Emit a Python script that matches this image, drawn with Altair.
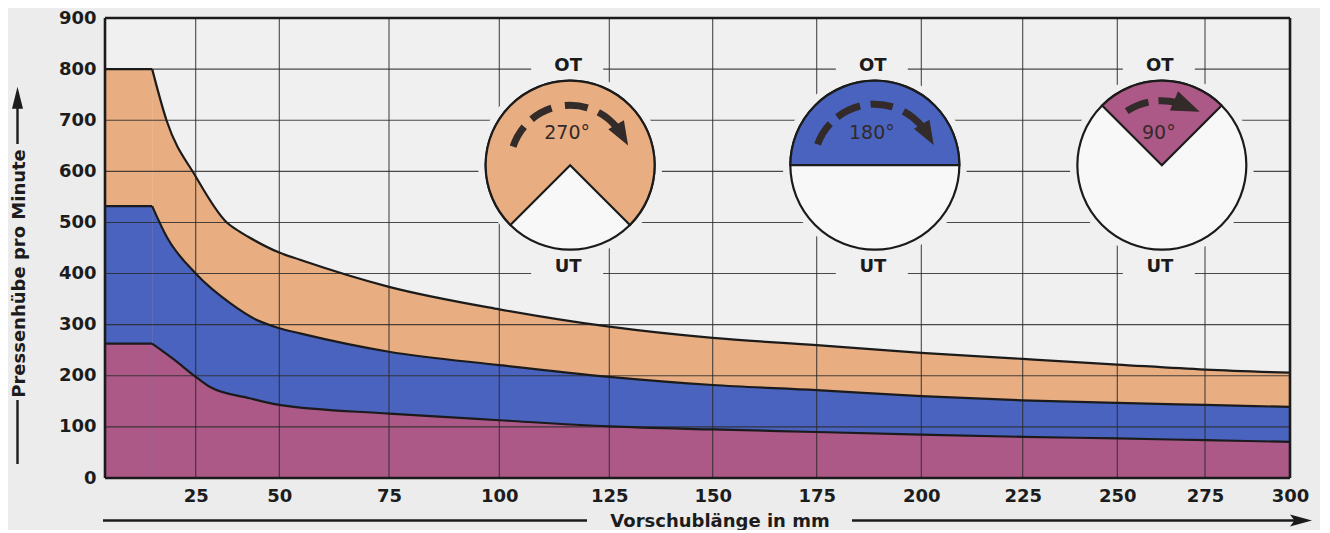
import altair as alt
import numpy as np
import pandas as pd

# ---------------- data ----------------
ORANGE_X = [0, 13, 17, 25, 34.3, 37.9, 41.2, 50, 54.7, 75, 100, 125, 150, 175, 200, 225, 250, 275, 300]
ORANGE_Y = [800, 800, 699, 590, 500, 483, 470, 441, 427, 374, 330, 296, 274, 260, 245, 233, 222, 212, 206]
BLUE_X = [0, 13, 17, 25, 35.3, 43.3, 50, 54.7, 75, 100, 125, 150, 175, 200, 225, 250, 275, 300]
BLUE_Y = [532, 532, 472, 400, 342, 309, 293, 283, 247, 221, 198, 182, 172, 160, 152, 147, 143, 139]
PINK_X = [0, 13, 18.8, 25, 29.3, 41.2, 50, 75, 100, 125, 150, 175, 200, 225, 250, 275, 300]
PINK_Y = [263, 263, 233, 198, 178, 156, 143, 126, 113, 101, 95, 90, 85, 80.5, 77.4, 74, 70.7]

X_TICKS = [0, 25, 50, 75, 100, 125, 150, 175, 200, 225, 250, 275, 300]
Y_TICKS = [0, 100, 200, 300, 400, 500, 600, 700, 800, 900]

DIAG_LABELS = ["270°", "180°", "90°"]
DIAG_X = [116.1, 188.9, 262.7]        # diagram centres (data units)
DIAG_Y = [612, 612, 612]
DIAG_START = [-135, -90, -45]          # coloured sector, degrees from top, clockwise
DIAG_END = [135, 90, 45]

X_TITLE = "Vorschublänge in mm"
Y_TITLE = "Pressenhübe pro Minute"

# ---------------- styling / layout ----------------
ORANGE = "#E8AD81"
BLUE = "#4963BF"
PINK = "#AD5987"
BG = "#ECECEC"
PLOT_BG = "#F0F0F0"
WHITE = "#F8F8F8"
INK = "#1b1b1b"
DARK = "#332a2a"
FONT = "DejaVu Sans"

W, H = 1185, 460
# the printed x axis is not evenly spaced: piecewise range (pixels)
X_RANGE = [0, 90.7, 174.3, 284, 394.3, 504.3, 607.7, 711.7, 816.3, 917.7, 1012.3, 1100, 1185]

xs = alt.Scale(domain=X_TICKS, range=X_RANGE, nice=False, zero=False)
ys = alt.Scale(domain=[0, 900], nice=False, zero=False)

xax = alt.Axis(values=X_TICKS[1:], title=X_TITLE, labelFlush=False, labelOverlap=False,
               ticks=False, grid=False, domain=False, labelPadding=9,
               titleX=614.5, titleY=43, titleBaseline="middle", titleAlign="center")
yax = alt.Axis(values=Y_TICKS, title=Y_TITLE, labelFlush=False, labelOverlap=False,
               ticks=False, grid=False, domain=False, labelPadding=9,
               titleX=-85.5, titleY=255, titleAngle=270, titleBaseline="middle",
               titleAlign="center")


def X(f):
    return alt.X(f, scale=xs, axis=xax)


def Y(f):
    return alt.Y(f, scale=ys, axis=yax)


def xpix(v):
    return np.interp(v, X_TICKS, X_RANGE)


def xdata(p):
    return float(np.interp(p, X_RANGE, X_TICKS))


def ypix(v):
    return H * (1 - v / 900.0)


def ydata(p):
    return 900.0 * (1 - p / H)


layers = []

series = [(ORANGE_X, ORANGE_Y, ORANGE), (BLUE_X, BLUE_Y, BLUE), (PINK_X, PINK_Y, PINK)]


def parts(xv, yv):
    # flat plateau (first two points, straight) and the falling curve (from the corner on)
    flat = pd.DataFrame({"x": xv[:2], "y": yv[:2]})
    curve = pd.DataFrame({"x": xv[1:], "y": yv[1:]})
    return flat, curve


for xv, yv, col in series:
    flat, curve = parts(xv, yv)
    layers.append(alt.Chart(flat).mark_area(interpolate="linear", color=col, opacity=1)
                  .encode(x=X("x:Q"), y=Y("y:Q")))
    layers.append(alt.Chart(curve).mark_area(interpolate="monotone", color=col, opacity=1)
                  .encode(x=X("x:Q"), y=Y("y:Q")))

# grid lines (drawn over the areas)
vgrid = pd.DataFrame({"x": X_TICKS[1:-1]})
hgrid = pd.DataFrame({"y": Y_TICKS[1:-1]})
layers.append(alt.Chart(vgrid).mark_rule(color="#2a2a2a", strokeWidth=1.1, opacity=0.85)
              .encode(x=X("x:Q")))
layers.append(alt.Chart(hgrid).mark_rule(color="#2a2a2a", strokeWidth=1.1, opacity=0.85)
              .encode(y=Y("y:Q")))

for xv, yv, col in series:
    flat, curve = parts(xv, yv)
    layers.append(alt.Chart(flat).mark_line(interpolate="linear", color=INK, strokeWidth=2.2)
                  .encode(x=X("x:Q"), y=Y("y:Q")))
    layers.append(alt.Chart(curve).mark_line(interpolate="monotone", color=INK, strokeWidth=2.2)
                  .encode(x=X("x:Q"), y=Y("y:Q")))

# ---------------- crank-angle diagrams ----------------
diag = pd.DataFrame({
    "cx": DIAG_X, "cy": DIAG_Y, "label": DIAG_LABELS,
    "t0": np.radians(DIAG_START), "t1": np.radians(DIAG_END),
    "col": [ORANGE, BLUE, PINK],
})
R = 84.5
TWO_PI = 6.2832

# halo hiding the grid
layers.append(alt.Chart(diag).mark_arc(theta=0, theta2=TWO_PI, radius=92, fill=PLOT_BG, strokeWidth=0)
              .encode(x=X("cx:Q"), y=Y("cy:Q")))
box = "M-1,-0.3L1,-0.3L1,0.3L-1,0.3Z"
for off in (-99, 101.5):
    layers.append(alt.Chart(diag).mark_point(shape=box, size=72 ** 2, filled=True, fill=PLOT_BG,
                                             opacity=1, strokeWidth=0, yOffset=off, xOffset=-3)
                  .encode(x=X("cx:Q"), y=Y("cy:Q")))

layers.append(alt.Chart(diag).mark_arc(theta=0, theta2=TWO_PI, radius=R, fill=WHITE,
                                       stroke=INK, strokeWidth=2.2)
              .encode(x=X("cx:Q"), y=Y("cy:Q")))
layers.append(alt.Chart(diag).mark_arc(radius=R, stroke=INK, strokeWidth=2.2, opacity=1)
              .encode(x=X("cx:Q"), y=Y("cy:Q"),
                      theta=alt.Theta("t0:Q", scale=None, stack=False),
                      theta2=alt.Theta2("t1:Q"),
                      fill=alt.Fill("col:N", scale=None)))

# dashed arrows (angles in degrees from top, clockwise)
DASH_DIAG = [0, 0, 0, 0, 1, 1, 1, 1, 2, 2]
DASH_START = [-72, -40, -5, 28, -70, -38, -4, 28, -33, -3]
DASH_END = [-50, -18, 17, 51, -47, -14, 17, 51, -12, 13]
RING = {0: (56.5, 63.5), 1: (57.5, 64.5), 2: (61, 68)}
dash = pd.DataFrame({
    "cx": [DIAG_X[d] for d in DASH_DIAG],
    "cy": [DIAG_Y[d] for d in DASH_DIAG],
    "t0": np.radians(DASH_START), "t1": np.radians(DASH_END),
    "ri": [RING[d][0] for d in DASH_DIAG], "ro": [RING[d][1] for d in DASH_DIAG],
})
layers.append(alt.Chart(dash).mark_arc(color=DARK, opacity=1)
              .encode(x=X("cx:Q"), y=Y("cy:Q"),
                      theta=alt.Theta("t0:Q", scale=None, stack=False),
                      theta2=alt.Theta2("t1:Q"),
                      radius=alt.Radius("ro:Q", scale=None),
                      radius2=alt.Radius2("ri:Q")))

HEAD_ANG = [60, 60, 23]
HEAD_R = [60, 61, 64]
HEAD_SIZE = [576, 576, 784]
hx, hy = [], []
for i in range(3):
    cxp, cyp = xpix(DIAG_X[i]), ypix(DIAG_Y[i])
    a = np.radians(HEAD_ANG[i])
    hx.append(xdata(cxp + HEAD_R[i] * np.sin(a)))
    hy.append(ydata(cyp - HEAD_R[i] * np.cos(a)))
heads = pd.DataFrame({"x": hx, "y": hy, "ang": [a + 90 for a in HEAD_ANG], "sz": HEAD_SIZE})
tri = "M0,-1L0.75,1L-0.75,1Z"
layers.append(alt.Chart(heads).mark_point(shape=tri, filled=True, color=DARK, opacity=1, strokeWidth=0)
              .encode(x=X("x:Q"), y=Y("y:Q"),
                      angle=alt.Angle("ang:Q", scale=None),
                      size=alt.Size("sz:Q", scale=None)))

layers.append(alt.Chart(diag).mark_text(font=FONT, fontSize=19, color=DARK, dy=-32.5, dx=-3)
              .encode(x=X("cx:Q"), y=Y("cy:Q"), text="label:N"))
for txt, off in (("OT", -99), ("UT", 101.5)):
    d = diag.assign(t=txt)
    layers.append(alt.Chart(d).mark_text(font=FONT, fontSize=18, fontWeight="bold", color=INK,
                                         dy=off, dx=-2)
                  .encode(x=X("cx:Q"), y=Y("cy:Q"), text="t:N"))

# frame
layers.append(alt.Chart(pd.DataFrame({"x": [0, 300]})).mark_rule(color=INK, strokeWidth=2.6)
              .encode(x=X("x:Q")))
layers.append(alt.Chart(pd.DataFrame({"y": [0, 900]})).mark_rule(color=INK, strokeWidth=2.6)
              .encode(y=Y("y:Q")))

# title arrows
one = pd.DataFrame({"a": [0]})
layers.append(alt.Chart(one).mark_rule(color=INK, strokeWidth=2.4)
              .encode(x=alt.value(-2), x2=alt.value(482), y=alt.value(502.5)))
layers.append(alt.Chart(one).mark_rule(color=INK, strokeWidth=2.4)
              .encode(x=alt.value(747), x2=alt.value(1192), y=alt.value(502.5)))
layers.append(alt.Chart(one).mark_point(shape="M0,-1L0.55,1L0,0.6L-0.55,1Z", size=484, filled=True,
                                        color=INK, opacity=1, strokeWidth=0, angle=90)
              .encode(x=alt.value(1196), y=alt.value(502.5)))
layers.append(alt.Chart(one).mark_rule(color=INK, strokeWidth=2.4)
              .encode(x=alt.value(-87.5), y=alt.value(382), y2=alt.value(446)))
layers.append(alt.Chart(one).mark_rule(color=INK, strokeWidth=2.4)
              .encode(x=alt.value(-87.5), y=alt.value(88), y2=alt.value(126)))
layers.append(alt.Chart(one).mark_point(shape="M0,-1L0.5,1L-0.5,1Z", size=484, filled=True,
                                        color=INK, opacity=1, strokeWidth=0)
              .encode(x=alt.value(-87.5), y=alt.value(79.7)))

chart = (alt.layer(*layers)
         .properties(width=W, height=H, background=BG,
                     padding={"left": 97, "top": 10, "right": 30, "bottom": 52},
                     autosize=alt.AutoSizeParams(type="none"))
         .configure_view(stroke=None, fill=PLOT_BG)
         .configure_axis(labelFont=FONT, labelFontWeight="bold", labelFontSize=18,
                         labelColor="#1c1c1c", titleFont=FONT, titleFontWeight="bold",
                         titleFontSize=18, titleColor="#1c1c1c"))

chart.save("out.html", embed_options={"renderer": "svg", "actions": False})
